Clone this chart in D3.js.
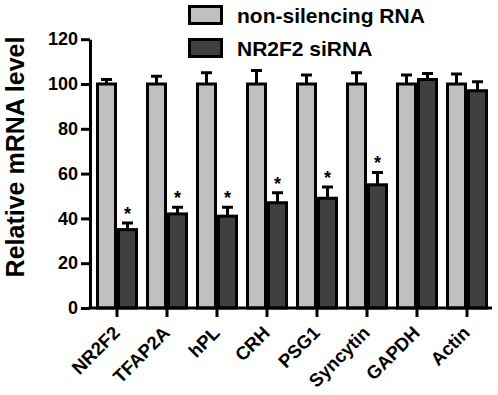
<!DOCTYPE html>
<html>
<head>
<meta charset="utf-8">
<script src="https://cdn.jsdelivr.net/npm/d3@7"></script>
<style>
  body { margin: 0; background: #fff; }
  text { font-family: "Liberation Sans", Arial, sans-serif; font-weight: bold; fill: #000; }
</style>
</head>
<body>
<div id="chart"></div>
<script>
// data
var genes = ["NR2F2", "TFAP2A", "hPL", "CRH", "PSG1", "Syncytin", "GAPDH", "Actin"];
var groups = ["non-silencing RNA", "NR2F2 siRNA"];
var controlMean = [100, 100, 100, 100, 100, 100, 100, 100];
var controlErr = [2, 3.5, 5, 6, 4, 5, 4, 4.5];
var siMean = [35, 42, 41, 47, 49, 55, 102, 97];
var siErr = [3, 3, 4, 4.5, 5, 5.5, 2.7, 4];
var significant = [true, true, true, true, true, true, false, false];
var yTicks = [0, 20, 40, 60, 80, 100, 120];

var svgWidth = 498;
var svgHeight = 395;
var colors = ["#c0c0c0", "#404040"];

var svg = d3.select("#chart")
    .append("svg")
    .attr("width", svgWidth)
    .attr("height", svgHeight);

var x = d3.scaleBand()
    .domain(genes)
    .range([92, 492]);

var xSub = d3.scaleBand()
    .domain(groups)
    .range([-21, 21]);

var y = d3.scaleLinear()
    .domain([0, 120])
    .range([308, 39.2]);

// flatten for drawing
var bars = [];
genes.forEach(function(g, i) {
    bars.push({gene: g, group: groups[0], mean: controlMean[i], err: controlErr[i], star: false, c: 0});
    bars.push({gene: g, group: groups[1], mean: siMean[i], err: siErr[i], star: significant[i], c: 1});
});

var center = function(d) { return x(d) + x.bandwidth() / 2; };

// error bars first (upper only)
svg.selectAll(".err")
    .data(bars)
    .enter()
    .append("path")
    .attr("d", function(d) {
        var cx = center(d.gene) + xSub(d.group) + xSub.bandwidth() / 2;
        var top = y(d.mean + d.err);
        return "M" + cx + "," + y(d.mean) + "V" + top + "M" + (cx - 5.5) + "," + top + "H" + (cx + 5.5);
    })
    .attr("stroke", "#000")
    .attr("stroke-width", 3)
    .attr("fill", "none");

svg.selectAll(".bar")
    .data(bars)
    .enter()
    .append("rect")
    .attr("x", d => center(d.gene) + xSub(d.group) + 1.5)
    .attr("width", xSub.bandwidth() - 3)
    .attr("y", d => y(d.mean))
    .attr("height", d => y(0) - y(d.mean))
    .attr("fill", d => colors[d.c])
    .attr("stroke", "#000")
    .attr("stroke-width", 3);

// asterisks
svg.selectAll(".star")
    .data(bars.filter(d => d.star))
    .enter()
    .append("text")
    .attr("x", d => center(d.gene) + xSub(d.group) + xSub.bandwidth() / 2)
    .attr("y", d => y(d.mean + d.err) - 3)
    .attr("text-anchor", "middle")
    .attr("font-size", "18px")
    .text("*");

// y axis
var yAxis = svg.append("g")
    .attr("transform", "translate(90,0)")
    .call(d3.axisLeft(y).tickValues(yTicks).tickSize(9).tickPadding(3).tickSizeOuter(0));
yAxis.select(".domain").attr("stroke-width", 3);
yAxis.selectAll(".tick line").attr("stroke-width", 3);
yAxis.selectAll("text").attr("font-size", "18px").attr("font-family", "Liberation Sans").attr("font-weight", "bold");

// x axis
var xAxis = svg.append("g")
    .attr("transform", "translate(0,308)")
    .call(d3.axisBottom(x).tickSize(9).tickSizeOuter(0));
xAxis.select(".domain").attr("d", "M88.5,0H492").attr("stroke-width", 3);
xAxis.selectAll(".tick line").attr("stroke-width", 3);
xAxis.selectAll("text")
    .attr("font-size", "18.5px")
    .attr("font-family", "Liberation Sans")
    .attr("font-weight", "bold")
    .attr("text-anchor", "end")
    .attr("dy", null)
    .attr("y", null)
    .attr("transform", "translate(4,26) rotate(-45)");

// y label
svg.append("text")
    .attr("transform", "translate(24,157) rotate(-90)")
    .attr("text-anchor", "middle")
    .attr("font-size", "25px")
    .text("Relative mRNA level");

// legend
var legend = svg.selectAll(".legend")
    .data(groups)
    .enter()
    .append("g")
    .attr("transform", (d, i) => "translate(189.5," + (6.5 + i * 33) + ")");
legend.append("rect")
    .attr("width", 32)
    .attr("height", 17)
    .attr("fill", (d, i) => colors[i])
    .attr("stroke", "#000")
    .attr("stroke-width", 3);
legend.append("text")
    .attr("x", 47.5)
    .attr("y", 16)
    .attr("font-size", "21px")
    .text(d => d);
</script>
</body>
</html>
